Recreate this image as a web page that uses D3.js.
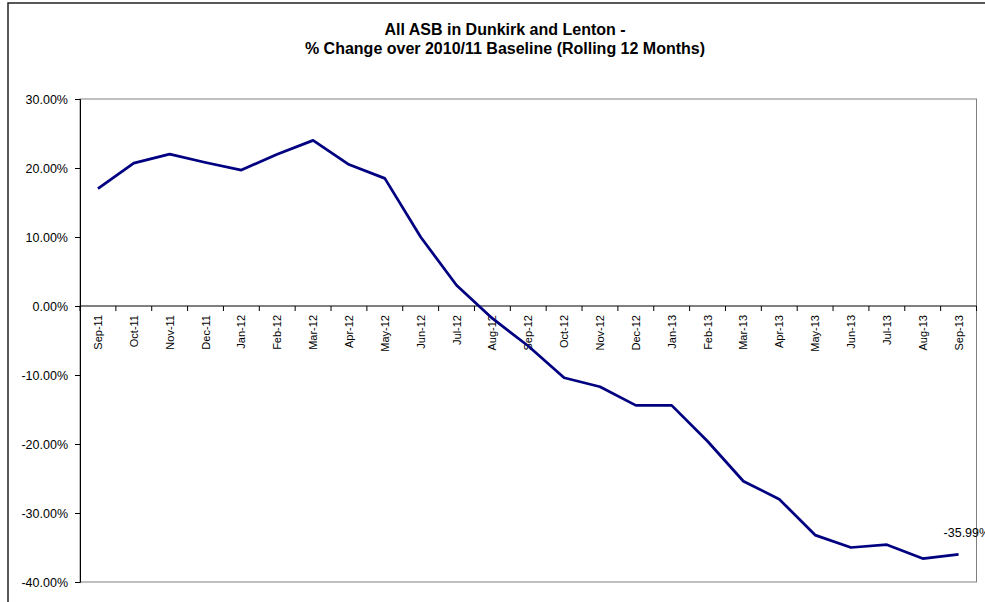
<!DOCTYPE html>
<html>
<head>
<meta charset="utf-8">
<script src="https://cdn.jsdelivr.net/npm/d3@7"></script>
<style>
	body { margin: 0; background: #fff; }
	svg { display: block; font-family: Arial, 'Liberation Sans', sans-serif; }
</style>
</head>
<body>
<div id="chart"></div>
<script>
var months = ['Sep-11', 'Oct-11', 'Nov-11', 'Dec-11', 'Jan-12', 'Feb-12', 'Mar-12', 'Apr-12', 'May-12',
	'Jun-12', 'Jul-12', 'Aug-12', 'Sep-12', 'Oct-12', 'Nov-12', 'Dec-12', 'Jan-13', 'Feb-13', 'Mar-13',
	'Apr-13', 'May-13', 'Jun-13', 'Jul-13', 'Aug-13', 'Sep-13'];
var pctChange = [17.0, 20.7, 22.0, 20.8, 19.7, 22.0, 24.0, 20.5, 18.5,
	10.0, 3.0, -1.8, -5.8, -10.4, -11.7, -14.4, -14.4, -19.6, -25.4,
	-28.0, -33.2, -35.0, -34.6, -36.6, -35.99];
var yTicks = [30, 20, 10, 0, -10, -20, -30, -40];
var titleLines = ['All ASB in Dunkirk and Lenton -', '% Change over 2010/11 Baseline (Rolling 12 Months)'];

var cfg = { w: 985, h: 602, mTop: 99, mLeft: 80, plotRight: 976.5, plotBottom: 582 };
var width = cfg.plotRight - cfg.mLeft,
	height = cfg.plotBottom - cfg.mTop;

var svg = d3.select('#chart').append('svg')
	.attr('width', cfg.w)
	.attr('height', cfg.h);

// outer chart border (right/bottom fall outside the picture)
svg.append('rect')
	.attr('x', 8).attr('y', 3)
	.attr('width', 1000).attr('height', 700)
	.attr('fill', 'none')
	.attr('stroke', '#222')
	.attr('stroke-width', 1.5);

svg.selectAll('.title')
	.data(titleLines)
	.enter()
	.append('text')
	.attr('x', 505)
	.attr('y', function(d, i) { return 35 + i * 18.5; })
	.attr('text-anchor', 'middle')
	.style('font-size', '16px')
	.style('font-weight', 'bold')
	.text(function(d) { return d; });

var g = svg.append('g')
	.attr('transform', 'translate(' + cfg.mLeft + ',' + cfg.mTop + ')');

var x = d3.scaleBand().domain(months).range([0, width]);
var y = d3.scaleLinear().domain([-40, 30]).range([height, 0]);

// plot area border
g.append('rect')
	.attr('width', width).attr('height', height)
	.attr('fill', 'none')
	.attr('stroke', '#808080')
	.attr('stroke-width', 1);

// y axis
g.append('g')
	.classed('yAxis', true)
	.call(d3.axisLeft(y).tickValues(yTicks).tickSize(5).tickPadding(7)
		.tickFormat(function(d) { return d.toFixed(2) + '%'; }))
	.call(function(a) {
		a.select('.domain').attr('stroke', '#000');
		a.selectAll('.tick text').style('font-size', '12.5px').attr('fill', '#000');
	});

// x axis at zero, ticks between categories
var xg = g.append('g')
	.attr('transform', 'translate(0,' + y(0) + ')');
xg.append('line')
	.attr('x1', 0).attr('x2', width)
	.attr('stroke', '#000');
xg.selectAll('.xtick')
	.data(months.concat(['end']))
	.enter()
	.append('line')
	.attr('x1', function(d, i) { return i * x.bandwidth(); })
	.attr('x2', function(d, i) { return i * x.bandwidth(); })
	.attr('y1', 0).attr('y2', 5)
	.attr('stroke', '#000');
xg.selectAll('.xlabel')
	.data(months)
	.enter()
	.append('text')
	.attr('transform', function(d) {
		return 'translate(' + (x(d) + x.bandwidth() / 2 + 4) + ',9) rotate(-90)';
	})
	.attr('text-anchor', 'end')
	.style('font-size', '11px')
	.text(function(d) { return d; });

var line = d3.line()
	.x(function(d, i) { return x(months[i]) + x.bandwidth() / 2; })
	.y(function(d) { return y(d); });

g.append('path')
	.datum(pctChange)
	.attr('d', line)
	.attr('fill', 'none')
	.attr('stroke', '#000080')
	.attr('stroke-width', 2.75)
	.attr('stroke-linejoin', 'round');

var last = pctChange.length - 1;
g.append('text')
	.attr('x', x(months[last]) + x.bandwidth() / 2 - 15)
	.attr('y', y(pctChange[last]) - 17)
	.style('font-size', '12.5px')
	.text(pctChange[last].toFixed(2) + '%');
</script>
</body>
</html>
